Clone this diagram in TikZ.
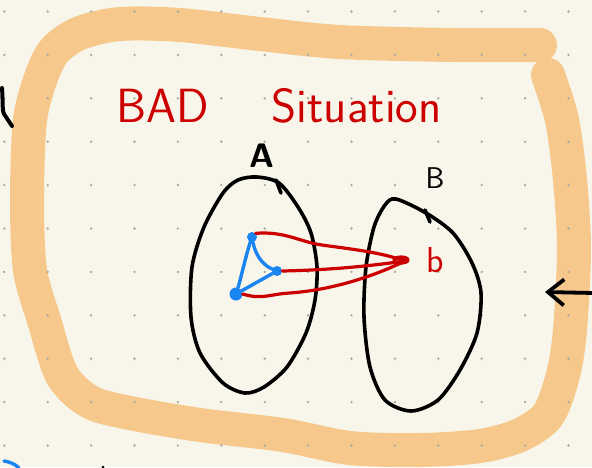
\documentclass[tikz,border=0pt]{standalone}
\usetikzlibrary{arrows.meta}
\definecolor{paper}{HTML}{F8F6EA}
\definecolor{marker}{HTML}{F6C88C}
\definecolor{dotgray}{HTML}{A8A8A0}
\definecolor{penred}{HTML}{CC0000}
\definecolor{penblue}{HTML}{1A84F0}
\tikzset{
  ink/.style={line width=3.6pt, line cap=round, line join=round},
  redline/.style={ink, penred, line width=3.2pt},
  blueline/.style={ink, penblue, line width=3.4pt},
  bluedot/.style={circle, fill=penblue, inner sep=0pt},
  hand/.style={inner sep=0pt}
}
\begin{document}
\begin{tikzpicture}[x=1pt,y=-1pt]
  \fill[paper] (0,0) rectangle (592,467);
  \useasboundingbox (0,0) rectangle (592,467);

  \draw[marker, line width=34pt, line cap=round, line join=round] plot[smooth] coordinates {(540,45) (453,45) (340,42) (260,34) (180,25) (120,24) (80,33) (55,50) (42,75) (30,120) (27,200) (30,270) (44,320) (62,375) (90,402) (130,413) (200,425) (283,435) (350,448) (420,450) (480,446) (520,435) (548,415) (563,375) (570,330) (574,250) (570,180) (562,120) (548,75)};
  \foreach \i in {0,...,13}
    \foreach \j in {0,...,10}
      \fill[dotgray] (4.3+43.4*\i, 11.5+43.4*\j) circle (1.3);

  \node[hand, penred, anchor=base west, font=\sffamily\fontsize{48}{48}\selectfont] (title) at (116,122) {BAD\hspace{63pt}Situation};
  \node[hand, font=\sffamily\bfseries\fontsize{34}{34}\selectfont] (labA) at (262,156) {A};
  \node[hand, font=\sffamily\fontsize{30}{30}\selectfont] (labB) at (435,178) {B};
  \node[hand, penred, font=\sffamily\fontsize{36}{36}\selectfont] (labb) at (435,260) {b};

  \draw[ink] plot[smooth cycle] coordinates {(257,177) (279,183) (298,207) (311,233) (317,267) (315,300) (306,333) (287,367) (264,387) (245,393) (223,383) (200,353) (191,317) (192,267) (204,227) (223,193) (238,180)};
  \draw[ink] (276,180) -- (281,193);
  \draw[ink] plot[smooth cycle] coordinates {(396,199) (426,213) (453,233) (472,263) (481,293) (477,333) (460,370) (438,400) (411,411) (385,400) (370,367) (364,317) (366,267) (374,227) (385,205)};
  \draw[ink] (425,210) -- (430,222);

  \node[bluedot, minimum size=10pt] (ptop) at (252,237) {};
  \node[bluedot, minimum size=10pt] (pright) at (277,271) {};
  \node[bluedot, minimum size=13pt] (pleft) at (236,294) {};
  \coordinate (bpt) at (405,261);

  \draw[blueline] (ptop) .. controls (256,258) and (265,266) .. (pright);
  \draw[blueline] (ptop) .. controls (246,255) and (241,278) .. (pleft);
  \draw[blueline] (pleft) -- (pright);

  \draw[redline] (ptop.north east) .. controls (285,231) and (300,242) .. (322,245) .. controls (350,249) and (380,252) .. (bpt);
  \draw[redline] (pright.east) .. controls (330,270) and (370,266) .. (bpt);
  \draw[redline] (pleft.east) .. controls (262,300) and (270,294) .. (290,293) .. controls (330,290) and (370,278) .. (bpt);
  \draw[redline] (401,260) ellipse (7 and 3);

  \coordinate (arrowtail) at (594,293);
  \coordinate (arrowtip) at (545,292);
  \draw[ink, line width=3.8pt] (arrowtail) edge[-{Straight Barb[length=16pt,width=26pt]}] (arrowtip);

  \draw[ink, line width=4pt] (2,88) .. controls (3,100) and (2,110) .. (4,114) -- (12,126);
  \draw[blueline] (4,461) .. controls (10,462) and (15,464) .. (19,468);
  \fill (103,467) circle (1.5);
\end{tikzpicture}
\end{document}
